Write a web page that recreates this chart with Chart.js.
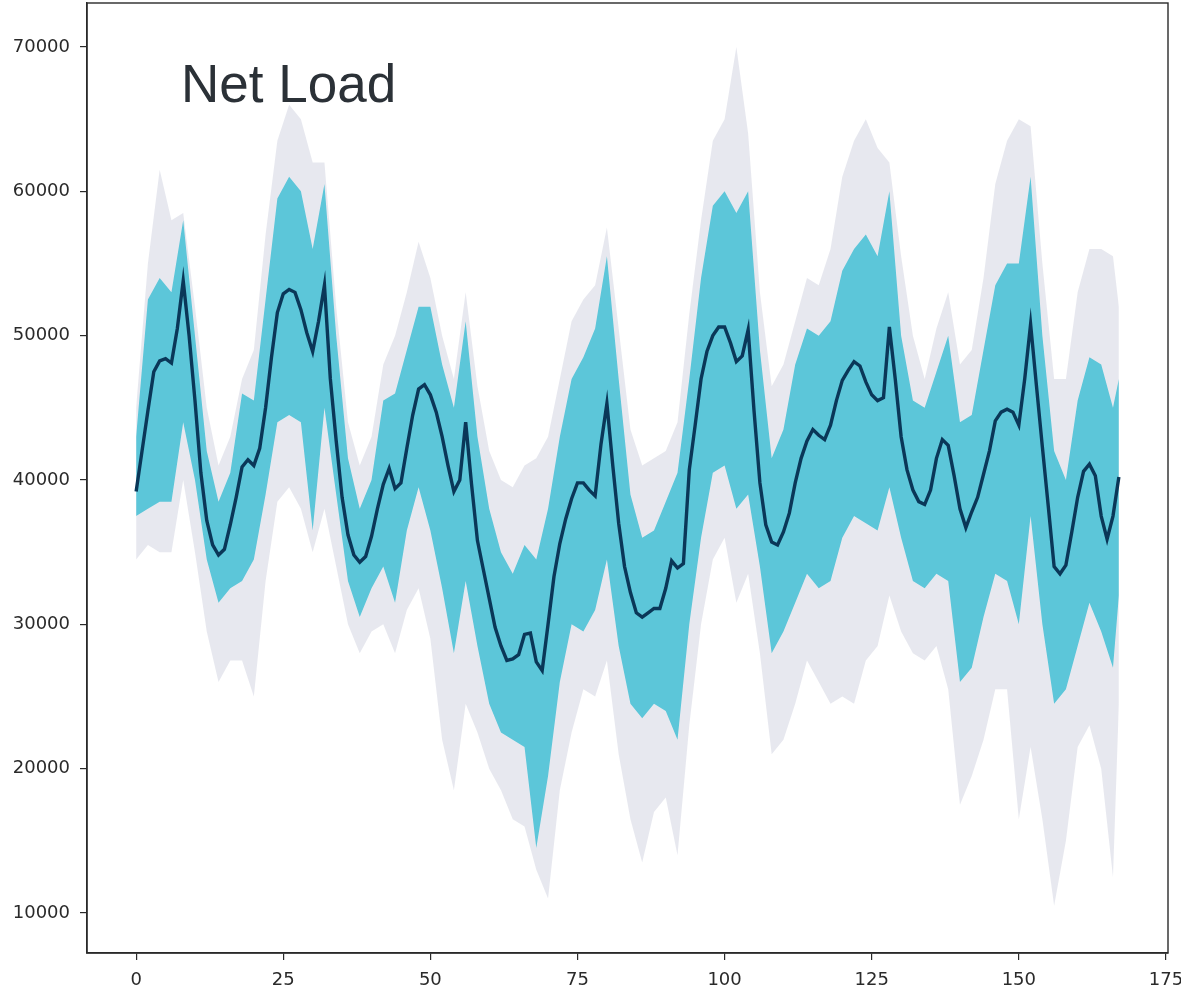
<!DOCTYPE html>
<html lang="en">
<head>
  <meta charset="UTF-8">
  <title>Net Load</title>
  <script src="https://cdn.jsdelivr.net/npm/chart.js"></script>
  <style>
    body { margin: 0; background: #fff; }
    #wrap { width: 1181px; height: 991px; }
  </style>
</head>
<body>
  <div id="wrap"><canvas id="netLoad" width="1181" height="991"></canvas></div>
  <script>
    // tick labels
    const xTicks = [0, 25, 50, 75, 100, 125, 150, 175];
    const yTicks = [10000, 20000, 30000, 40000, 50000, 60000, 70000];

    const bandX = [0, 2, 4, 6, 8, 10, 12, 14, 16, 18, 20, 22, 24, 26, 28, 30, 32, 34, 36, 38,
      40, 42, 44, 46, 48, 50, 52, 54, 56, 58, 60, 62, 64, 66, 68, 70, 72, 74, 76, 78,
      80, 82, 84, 86, 88, 90, 92, 94, 96, 98, 100, 102, 104, 106, 108, 110, 112, 114, 116, 118,
      120, 122, 124, 126, 128, 130, 132, 134, 136, 138, 140, 142, 144, 146, 148, 150, 152, 154, 156, 158,
      160, 162, 164, 166, 167];

    // faint grey scenario lines, outer envelope
    const greyHigh = [45000, 55000, 61500, 58000, 58500, 52000, 45000, 41000, 43000, 47000,
      49000, 57000, 63500, 66000, 65000, 62000, 62000, 52000, 44000, 41000,
      43000, 48000, 50000, 53000, 56500, 54000, 50000, 47000, 53000, 46500,
      42000, 40000, 39500, 41000, 41500, 43000, 47000, 51000, 52500, 53500,
      57500, 50500, 43500, 41000, 41500, 42000, 44000, 51500, 58000, 63500,
      65000, 70000, 64000, 53000, 46500, 48000, 51000, 54000, 53500, 56000,
      61000, 63500, 65000, 63000, 62000, 55500, 50000, 47000, 50500, 53000,
      48000, 49000, 54000, 60500, 63500, 65000, 64500, 55000, 47000, 47000,
      53000, 56000, 56000, 55500, 52000];
    const greyLow = [34500, 35500, 35000, 35000, 40000, 35000, 29500, 26000, 27500, 27500,
      25000, 33000, 38500, 39500, 38000, 35000, 38000, 34000, 30000, 28000,
      29500, 30000, 28000, 31000, 32500, 29000, 22000, 18500, 24500, 22500,
      20000, 18500, 16500, 16000, 13000, 11000, 18500, 22500, 25500, 25000,
      27500, 21000, 16500, 13500, 17000, 18000, 14000, 23000, 30000, 34500,
      36000, 31500, 33500, 28000, 21000, 22000, 24500, 27500, 26000, 24500,
      25000, 24500, 27500, 28500, 32000, 29500, 28000, 27500, 28500, 25500,
      17500, 19500, 22000, 25500, 25500, 16500, 21500, 16500, 10500, 15000,
      21500, 23000, 20000, 12500, 24500];

    // dense cyan scenario band
    const cyanHigh = [43000, 52500, 54000, 53000, 58000, 50000, 42000, 38500, 40500, 46000,
      45500, 52500, 59500, 61000, 60000, 56000, 60500, 50000, 41500, 38000,
      40000, 45500, 46000, 49000, 52000, 52000, 48000, 45000, 51000, 43000,
      38000, 35000, 33500, 35500, 34500, 38000, 43000, 47000, 48500, 50500,
      55500, 47000, 39000, 36000, 36500, 38500, 40500, 47000, 54000, 59000,
      60000, 58500, 60000, 49000, 41500, 43500, 48000, 50500, 50000, 51000,
      54500, 56000, 57000, 55500, 60000, 50000, 45500, 45000, 47500, 50000,
      44000, 44500, 49000, 53500, 55000, 55000, 61000, 50000, 42000, 40000,
      45500, 48500, 48000, 45000, 47000];
    const cyanLow = [37500, 38000, 38500, 38500, 44000, 40000, 34500, 31500, 32500, 33000,
      34500, 39000, 44000, 44500, 44000, 36500, 45000, 39000, 33000, 30500,
      32500, 34000, 31500, 36500, 39500, 36500, 32500, 28000, 33000, 28500,
      24500, 22500, 22000, 21500, 14500, 19500, 26000, 30000, 29500, 31000,
      34500, 28500, 24500, 23500, 24500, 24000, 22000, 30000, 36000, 40500,
      41000, 38000, 39000, 34000, 28000, 29500, 31500, 33500, 32500, 33000,
      36000, 37500, 37000, 36500, 39500, 36000, 33000, 32500, 33500, 33000,
      26000, 27000, 30500, 33500, 33000, 30000, 37500, 30000, 24500, 25500,
      28500, 31500, 29500, 27000, 32000];

    // mean net load, hours 0..167
    const meanLoad = [39200, 42000, 44800, 47500, 48250, 48400, 48100, 50500, 53800, 50000,
      45500, 40500, 37200, 35500, 34800, 35200, 36900, 38800, 40900, 41400,
      41000, 42200, 45000, 48500, 51600, 52900, 53200, 53000, 51800, 50200,
      48900, 51000, 53500, 47000, 42700, 38800, 36200, 34800, 34300, 34700,
      36100, 38000, 39700, 40800, 39400, 39800, 42200, 44500, 46300, 46600,
      45900, 44700, 43000, 41000, 39200, 40000, 44000, 39700, 35800, 33800,
      31800, 29800, 28500, 27500, 27600, 27900, 29300, 29400, 27400, 26800,
      30000, 33300, 35600, 37300, 38700, 39800, 39800, 39300, 38900, 42500,
      45300, 41000, 37000, 34000, 32200, 30800, 30500, 30800, 31100, 31100,
      32500, 34400, 33900, 34200, 40700, 43800, 47000, 48900, 50000, 50600,
      50600, 49500, 48200, 48600, 50400, 44800, 39800, 36900, 35700, 35500,
      36400, 37700, 39800, 41500, 42700, 43500, 43100, 42800, 43800, 45500,
      46900, 47600, 48200, 47900, 46800, 45900, 45500, 45700, 50600, 47000,
      43000, 40700, 39300, 38500, 38300, 39300, 41500, 42800, 42400, 40300,
      38000, 36700, 37800, 38800, 40400, 42000, 44100, 44700, 44900, 44700,
      43800, 47000, 50800, 46500, 42300, 38200, 34000, 33500, 34100, 36400,
      38800, 40600, 41100, 40300, 37500, 35900, 37500, 40200];

    const pts = (xs, ys) => xs.map((x, i) => ({ x: x, y: ys[i] }));
    const hours = meanLoad.map((v, i) => i);

    const tickFont = { family: 'DejaVu Sans', size: 18 };
    const axisColor = '#2a2a2a';

    const frame = {
      id: 'frame',
      afterDraw(chart) {
        const a = chart.chartArea;
        const ctx = chart.ctx;
        ctx.save();
        ctx.strokeStyle = axisColor;
        ctx.lineWidth = 1.4;
        ctx.strokeRect(a.left, a.top, a.right - a.left, a.bottom - a.top);
        ctx.fillStyle = '#2b3137';
        ctx.font = '53px "Liberation Sans", Arial, sans-serif';
        ctx.textBaseline = 'alphabetic';
        ctx.fillText('Net Load', 181, 102);
        ctx.restore();
      }
    };

    new Chart(document.getElementById('netLoad'), {
      type: 'line',
      data: {
        datasets: [
          {
            data: pts(bandX, greyHigh), fill: '+1', order: 4,
            backgroundColor: 'rgba(192,195,214,0.38)', borderWidth: 0, pointRadius: 0
          },
          {
            data: pts(bandX, greyLow), fill: false, order: 4,
            borderWidth: 0, pointRadius: 0
          },
          {
            data: pts(bandX, cyanHigh), fill: '+1', order: 2,
            backgroundColor: '#5cc6d9', borderWidth: 0, pointRadius: 0
          },
          {
            data: pts(bandX, cyanLow), fill: false, order: 2,
            borderWidth: 0, pointRadius: 0
          },
          {
            data: pts(hours, meanLoad), fill: false, order: 0,
            borderColor: '#0a3758', borderWidth: 3.4, pointRadius: 0, tension: 0
          }
        ]
      },
      options: {
        responsive: false,
        animation: false,
        layout: { padding: { top: 3, right: 13, left: 0, bottom: 0 } },
        plugins: { legend: { display: false }, tooltip: { enabled: false } },
        scales: {
          x: {
            type: 'linear', min: -8.35, max: 175.35,
            afterBuildTicks: s => { s.ticks = xTicks.map(v => ({ value: v })); },
            afterFit: s => { s.height = 38; s.paddingLeft = 0; s.paddingRight = 0; },
            ticks: { font: tickFont, color: axisColor, padding: 10, maxRotation: 0, autoSkip: false },
            grid: { drawOnChartArea: false, drawTicks: true, tickLength: 7, color: axisColor, lineWidth: 1.2 },
            border: { display: true, color: axisColor, width: 1.4 }
          },
          y: {
            type: 'linear', min: 7230, max: 73046,
            afterBuildTicks: s => { s.ticks = yTicks.map(v => ({ value: v })); },
            afterFit: s => { s.width = 87; s.paddingTop = 0; s.paddingBottom = 0; },
            ticks: { font: tickFont, color: axisColor, padding: 10, callback: v => String(v) },
            grid: { drawOnChartArea: false, drawTicks: true, tickLength: 7, color: axisColor, lineWidth: 1.2 },
            border: { display: true, color: axisColor, width: 1.4 }
          }
        }
      },
      plugins: [frame]
    });
  </script>
</body>
</html>
